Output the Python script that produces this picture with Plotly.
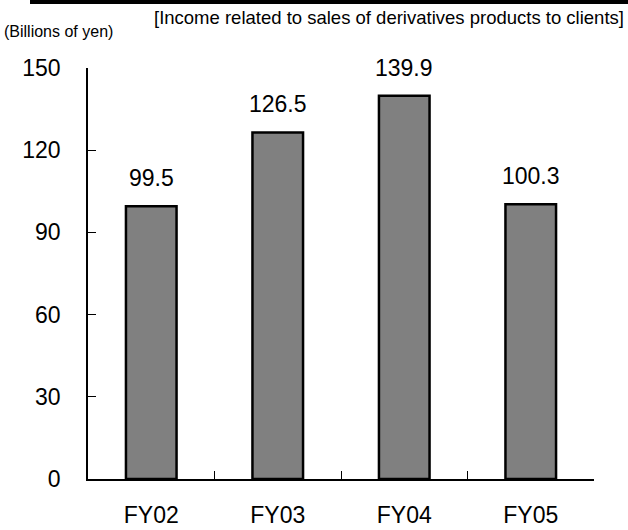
import plotly.graph_objects as go

# Income related to sales of derivatives products to clients
fiscal_years = ["FY02", "FY03", "FY04", "FY05"]
income_bn_yen = [99.5, 126.5, 139.9, 100.3]
y_ticks = [0, 30, 60, 90, 120, 150]

FONT = "Liberation Sans, Arial, sans-serif"
NUM_SIZE = 23

# plot area in pixels: x 88..594, y 68..479
PW, PH = 506, 411

fig = go.Figure()
fig.add_trace(go.Bar(
    x=fiscal_years,
    y=income_bn_yen,
    width=0.4,
    marker=dict(color="#808080", line=dict(color="#000000", width=2.5)),
    hoverinfo="x+y",
))

# Value labels above each bar
for fy, v in zip(fiscal_years, income_bn_yen):
    fig.add_annotation(
        x=fy, y=v, text=f"{v:.1f}", showarrow=False,
        yanchor="bottom", yshift=13,
        font=dict(family=FONT, size=NUM_SIZE, color="#000000"),
    )

# Heavy rule across the top
fig.add_shape(type="line", xref="paper", yref="paper",
              x0=(30 - 88) / PW, x1=(628 - 88) / PW,
              y0=1 + 66 / PH, y1=1 + 66 / PH,
              line=dict(color="#000000", width=4))

fig.add_annotation(
    text="(Billions of yen)", xref="paper", yref="paper",
    x=-86 / PW, y=1 + 37 / PH, xanchor="left", yanchor="middle",
    showarrow=False, font=dict(family=FONT, size=16, color="#000000"),
)
fig.add_annotation(
    text="[Income related to sales of derivatives products to clients]",
    xref="paper", yref="paper",
    x=(626 - 88) / PW, y=1 + 51 / PH, xanchor="right", yanchor="middle",
    showarrow=False, font=dict(family=FONT, size=18.5, color="#000000"),
)

fig.update_layout(
    width=628, height=530,
    margin=dict(l=88, r=34, t=68, b=51),
    paper_bgcolor="#ffffff", plot_bgcolor="#ffffff",
    showlegend=False,
    bargap=0.6,
    font=dict(family=FONT, color="#000000"),
)
fig.update_xaxes(
    type="category", automargin=False,
    showline=True, linecolor="#000000", linewidth=1.5,
    ticks="inside", tickson="boundaries", ticklen=8, tickcolor="#000000",
    tickfont=dict(family=FONT, size=NUM_SIZE, color="#000000"),
    ticklabelstandoff=15,
    showgrid=False, zeroline=False,
)
fig.update_yaxes(
    range=[0, 150], tickvals=y_ticks, automargin=False,
    showline=True, linecolor="#000000", linewidth=1.5,
    ticks="inside", ticklen=8, tickcolor="#000000",
    tickfont=dict(family=FONT, size=NUM_SIZE, color="#000000"),
    ticklabelstandoff=21,
    showgrid=False, zeroline=False,
)

fig.write_html("out.html")
